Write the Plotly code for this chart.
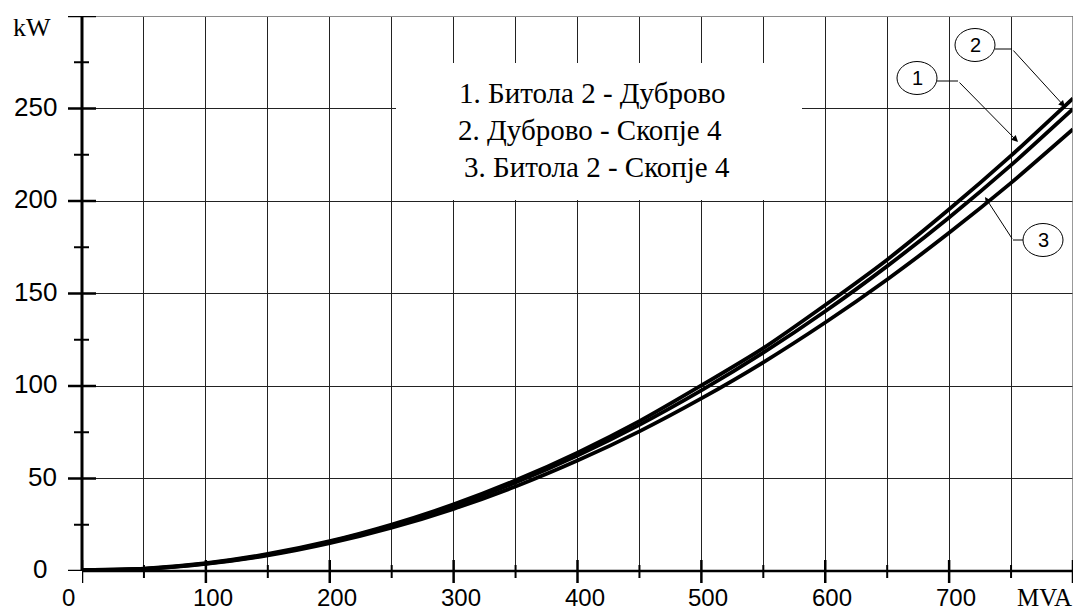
import plotly.graph_objects as go

# ---------------- data ----------------
mva = [0, 50, 100, 150, 200, 250, 300, 350, 400, 450, 500, 550, 600, 650, 700, 750, 800]
line_2 = [0.5, 1.3, 4.2, 9.2, 16.1, 25.1, 36.0, 49.0, 64.0, 81.0, 100.3, 120.5, 143.8, 168.3, 195.5, 224.5, 255.5]
line_1 = [0.5, 1.2, 4.0, 8.8, 15.7, 24.5, 35.1, 47.8, 62.4, 79.0, 97.6, 118.0, 140.4, 164.8, 191.1, 219.4, 249.8]
line_3 = [0.5, 1.1, 3.8, 8.4, 15.0, 23.4, 33.6, 45.7, 59.7, 75.5, 93.3, 112.8, 134.3, 157.6, 182.8, 209.8, 238.8]

x_tick_vals = [0, 100, 200, 300, 400, 500, 600, 700]
x_tick_text = ["0", "100", "200", "300", "400", "500", "600", "700"]
x_minor_vals = [50, 150, 250, 350, 450, 550, 650, 750]
x_major_vals = [0, 100, 200, 300, 400, 500, 600, 700, 800]
y_tick_vals = [0, 50, 100, 150, 200, 250]
y_tick_text = ["0", "50", "100", "150", "200", "250"]
y_major_vals = [0, 50, 100, 150, 200, 250, 300]
y_minor_vals = [25, 75, 125, 175, 225, 275]

legend_lines = ["1. Битола 2 - Дуброво", "2. Дуброво - Скопје 4", "3. Битола 2 - Скопје 4"]
x_unit = "MVA"
y_unit = "kW"

# ---------------- geometry ----------------
W, H = 1079, 611
L, T = 82, 16
PW, PH = 991, 555
R = W - L - PW
B = H - T - PH
XMAX, YMAX = 800, 300


def dx(px):
    return (px - L) / PW * XMAX


def dy(py):
    return (T + PH - py) / PH * YMAX


def px_paper(px):
    return (px - L) / PW


def py_paper(py):
    return (T + PH - py) / PH


SANS = "Liberation Sans, Arial, sans-serif"
SERIF = "Liberation Serif, Times New Roman, serif"

fig = go.Figure()
for ys, name in [(line_2, "2"), (line_1, "1"), (line_3, "3")]:
    fig.add_trace(go.Scatter(x=mva, y=ys, mode="lines", name=name,
                             line=dict(color="black", width=3.8, shape="spline", smoothing=0.6),
                             showlegend=False, hoverinfo="skip"))

shapes = []
# top line (300) gray
shapes.append(dict(type="line", xref="paper", yref="y", x0=0, x1=1, y0=300, y1=300,
                   line=dict(color="#8a8a8a", width=2)))
# right line at 800
shapes.append(dict(type="line", xref="x", yref="paper", x0=800, x1=800, y0=0, y1=1,
                   line=dict(color="#777", width=1.5)))
# white box behind legend text
shapes.append(dict(type="rect", xref="x", yref="y", x0=dx(396), x1=dx(802), y0=dy(200), y1=dy(63),
                   fillcolor="white", line=dict(width=0), layer="above"))
# axes
shapes.append(dict(type="line", xref="paper", yref="paper", x0=0, x1=0, y0=0, y1=1,
                   line=dict(color="black", width=3)))
shapes.append(dict(type="line", xref="paper", yref="paper", x0=0, x1=1, y0=0, y1=0,
                   line=dict(color="black", width=2.5)))
# y ticks
for v in y_major_vals:
    shapes.append(dict(type="line", xref="paper", xsizemode="pixel", xanchor=0, x0=-14, x1=14,
                       yref="y", y0=v, y1=v, line=dict(color="black", width=2.5)))
for v in y_minor_vals:
    shapes.append(dict(type="line", xref="paper", xsizemode="pixel", xanchor=0, x0=-8, x1=7,
                       yref="y", y0=v, y1=v, line=dict(color="black", width=2)))
# x ticks
for v in x_major_vals:
    shapes.append(dict(type="line", yref="paper", ysizemode="pixel", yanchor=0, y0=-12, y1=11,
                       xref="x", x0=v, x1=v, line=dict(color="black", width=2.5)))
for v in x_minor_vals:
    shapes.append(dict(type="line", yref="paper", ysizemode="pixel", yanchor=0, y0=-7, y1=6,
                       xref="x", x0=v, x1=v, line=dict(color="black", width=2)))

# circles for callouts
callouts = [("2", 975, 45), ("1", 917, 78), ("3", 1043, 240)]
for lab, cx, cy in callouts:
    shapes.append(dict(type="circle", xref="x", yref="y", xsizemode="pixel", ysizemode="pixel",
                       xanchor=dx(cx), yanchor=dy(cy), x0=-20, x1=20, y0=-16.5, y1=16.5,
                       line=dict(color="black", width=1), fillcolor="white", layer="above"))
# horizontal leader segments
for (x0, y0, x1, y1) in [(995, 49, 1012, 49), (937, 81, 958, 81), (1023, 240, 1013, 240)]:
    shapes.append(dict(type="line", xref="x", yref="y", x0=dx(x0), x1=dx(x1), y0=dy(y0), y1=dy(y1),
                       line=dict(color="black", width=1), layer="above"))

ann = []
for v, t in zip(x_tick_vals, x_tick_text):
    ann.append(dict(x=v, y=0, xref="x", yref="paper", text=t, showarrow=False, borderpad=0,
                    xanchor="center", yanchor="middle", xshift=(-14 if v == 0 else 7), yshift=-26,
                    font=dict(family=SANS, size=24, color="black")))
for v, t in zip(y_tick_vals, y_tick_text):
    ann.append(dict(x=0, y=v, xref="paper", yref="y", text=t, showarrow=False,
                    xanchor="right", yanchor="middle", xshift=(-33 if v == 0 else -23), yshift=2,
                    font=dict(family=SANS, size=26, color="black")))
ann.append(dict(x=px_paper(32), y=py_paper(27), xref="paper", yref="paper", text=y_unit,
                showarrow=False, xanchor="center", yanchor="middle",
                font=dict(family=SERIF, size=26, color="black")))
ann.append(dict(x=px_paper(1044), y=py_paper(597), xref="paper", yref="paper", text=x_unit,
                showarrow=False, xanchor="center", yanchor="middle", borderpad=0,
                font=dict(family=SERIF, size=25, color="black")))
for t, (lx, ly) in zip(legend_lines, [(592, 93), (590, 130), (597, 167)]):
    ann.append(dict(x=dx(lx), y=dy(ly), xref="x", yref="y", text=t, showarrow=False,
                    xanchor="center", yanchor="middle", font=dict(family=SERIF, size=29, color="black")))
for lab, cx, cy in callouts:
    ann.append(dict(x=dx(cx), y=dy(cy), xref="x", yref="y", text=lab, showarrow=False,
                    xanchor="center", yanchor="middle", font=dict(family=SANS, size=20, color="black")))
# arrows: (tail px, tip px)
for (tx, ty, hx, hy) in [(1012, 49, 1065, 107), (958, 81, 1018, 142), (1013, 240, 985, 197)]:
    ann.append(dict(x=dx(hx), y=dy(hy), xref="x", yref="y", ax=tx - hx, ay=ty - hy,
                    axref="pixel", ayref="pixel", text="", showarrow=True,
                    arrowhead=2, arrowsize=1.3, arrowwidth=1, arrowcolor="black", standoff=0))

fig.update_layout(
    width=W, height=H,
    margin=dict(l=L, r=R, t=T, b=B, pad=0),
    paper_bgcolor="white", plot_bgcolor="white",
    shapes=shapes, annotations=ann,
    xaxis=dict(range=[0, XMAX], tick0=0, dtick=50, showgrid=True, gridcolor="#222", gridwidth=1,
               zeroline=False, showline=False, showticklabels=False, ticks="", fixedrange=True),
    yaxis=dict(range=[0, YMAX], tickvals=[50, 100, 150, 200, 250], showgrid=True, gridcolor="#222",
               gridwidth=1, zeroline=False, showline=False, showticklabels=False, ticks="",
               fixedrange=True),
)

fig.write_html("out.html", config={"displayModeBar": False},
               post_script="document.body.style.margin='0';document.body.style.overflow='hidden';")
